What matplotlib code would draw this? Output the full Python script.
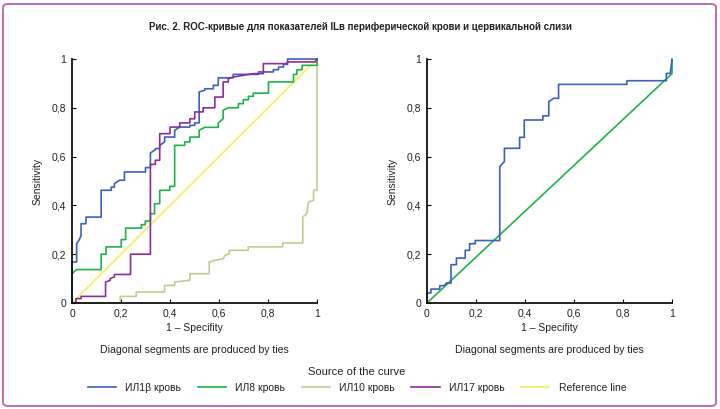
import matplotlib
matplotlib.use('Agg')
import matplotlib.pyplot as plt
from matplotlib.patches import FancyBboxPatch

plt.rcParams['font.family'] = ['Liberation Sans', 'DejaVu Sans']

# ROC points (1 - specificity, sensitivity)
# left panel: blood
il1b_fpr = [0, 0, 0.019, 0.019, 0.03, 0.037, 0.037, 0.057, 0.057, 0.119, 0.119, 0.160, 0.160,
            0.173, 0.173, 0.194, 0.214, 0.214, 0.30, 0.30, 0.32, 0.32, 0.34, 0.34, 0.358, 0.358,
            0.378, 0.378, 0.419, 0.419, 0.44, 0.481, 0.481, 0.501, 0.501, 0.519, 0.519, 0.542,
            0.542, 0.577, 0.577, 0.597, 0.597, 0.658, 0.658, 0.761, 0.761, 0.822, 0.822, 0.843,
            0.843, 0.863, 0.863, 0.880, 0.880, 1.0]
il1b_tpr = [0, 0.168, 0.168, 0.243, 0.26, 0.277, 0.325, 0.325, 0.352, 0.352, 0.462, 0.462, 0.475,
            0.475, 0.489, 0.503, 0.503, 0.537, 0.537, 0.555, 0.555, 0.615, 0.628, 0.633, 0.633, 0.646,
            0.660, 0.680, 0.680, 0.708, 0.721, 0.721, 0.728, 0.728, 0.738, 0.738, 0.865, 0.872,
            0.878, 0.878, 0.892, 0.892, 0.923, 0.923, 0.937, 0.937, 0.947, 0.947, 0.956, 0.956,
            0.967, 0.967, 0.978, 0.978, 1.0, 1.0]

il8_fpr = [0, 0, 0.019, 0.119, 0.119, 0.139, 0.139, 0.201, 0.201, 0.219, 0.219, 0.283, 0.283,
           0.299, 0.299, 0.320, 0.320, 0.337, 0.337, 0.358, 0.358, 0.399, 0.399, 0.419, 0.419,
           0.46, 0.46, 0.481, 0.481, 0.519, 0.519, 0.542, 0.597, 0.597, 0.617, 0.617, 0.638,
           0.679, 0.679, 0.699, 0.699, 0.72, 0.72, 0.74, 0.74, 0.802, 0.802, 0.904, 0.904,
           0.918, 0.918, 0.939, 0.939, 1.0, 1.0]
il8_tpr = [0, 0.12, 0.137, 0.137, 0.2, 0.2, 0.23, 0.23, 0.26, 0.26, 0.307, 0.307, 0.321,
           0.321, 0.336, 0.336, 0.366, 0.366, 0.407, 0.407, 0.462, 0.462, 0.478, 0.478, 0.646,
           0.646, 0.66, 0.66, 0.68, 0.68, 0.708, 0.72, 0.72, 0.738, 0.755, 0.79, 0.80,
           0.80, 0.817, 0.817, 0.833, 0.833, 0.847, 0.847, 0.86, 0.86, 0.906, 0.906, 0.937,
           0.937, 0.956, 0.956, 0.974, 0.974, 1.0]

il10_fpr = [0, 0.197, 0.197, 0.262, 0.262, 0.378, 0.378, 0.419, 0.419, 0.481, 0.481, 0.56,
            0.56, 0.583, 0.617, 0.624, 0.642, 0.642, 0.719, 0.719, 0.86, 0.86, 0.942, 0.942,
            0.958, 0.965, 0.986, 0.986, 1.0, 1.0]
il10_tpr = [0, 0, 0.027, 0.027, 0.045, 0.045, 0.072, 0.072, 0.086, 0.093, 0.12, 0.12,
            0.168, 0.175, 0.181, 0.195, 0.202, 0.216, 0.216, 0.23, 0.23, 0.246, 0.246, 0.353,
            0.366, 0.414, 0.421, 0.462, 0.462, 1.0]

il17_fpr = [0, 0.016, 0.016, 0.037, 0.037, 0.137, 0.137, 0.156, 0.156, 0.173, 0.173, 0.239,
            0.239, 0.320, 0.320, 0.34, 0.34, 0.358, 0.358, 0.40, 0.40, 0.44, 0.44, 0.481, 0.481,
            0.501, 0.501, 0.535, 0.535, 0.583, 0.583, 0.617, 0.617, 0.638, 0.638, 0.658, 0.699,
            0.74, 0.781, 0.781, 0.877, 0.88, 0.993, 1.0]
il17_tpr = [0, 0, 0.018, 0.018, 0.027, 0.027, 0.086, 0.093, 0.10, 0.107, 0.117, 0.117,
            0.2, 0.2, 0.568, 0.568, 0.585, 0.585, 0.694, 0.694, 0.721, 0.721, 0.738, 0.738, 0.755,
            0.755, 0.783, 0.783, 0.80, 0.80, 0.844, 0.844, 0.906, 0.906, 0.919, 0.926, 0.933,
            0.94, 0.94, 0.981, 0.981, 0.988, 0.988, 1.0]

ref_x = [0, 1]
ref_y = [0, 1]

# right panel: cervical mucus
cerv_fpr = [0, 0, 0.016, 0.016, 0.052, 0.052, 0.071, 0.079, 0.098, 0.098, 0.12, 0.12, 0.156,
            0.156, 0.174, 0.174, 0.197, 0.197, 0.297, 0.297, 0.316, 0.316, 0.378, 0.378, 0.397,
            0.397, 0.473, 0.473, 0.497, 0.497, 0.517, 0.537, 0.537, 0.816, 0.816, 0.977, 0.977,
            0.993, 1.0]
cerv_tpr = [0, 0.041, 0.041, 0.057, 0.057, 0.071, 0.071, 0.082, 0.082, 0.157, 0.157, 0.184, 0.184,
            0.216, 0.216, 0.243, 0.243, 0.256, 0.256, 0.559, 0.58, 0.634, 0.634, 0.679, 0.679,
            0.75, 0.75, 0.767, 0.767, 0.825, 0.839, 0.839, 0.896, 0.896, 0.911, 0.911, 0.941,
            0.941, 0.996]
cerv_ref_x = [0, 1, 1]
cerv_ref_y = [0, 0.94, 1.0]

series_names = ['ИЛ1β кровь', 'ИЛ8 кровь', 'ИЛ10 кровь', 'ИЛ17 кровь', 'Reference line']
colors = ['#3d5fbd', '#1fb24a', '#c9c98e', '#8e2c9c', '#f4ee5a']
tick_vals = [0, 0.2, 0.4, 0.6, 0.8, 1]
tick_labels = ['0', '0,2', '0,4', '0,6', '0,8', '1']

W, H = 720, 409
fig = plt.figure(figsize=(7.2, 4.09), dpi=100)
txt = '#222222'

ax1 = fig.add_axes([72 / W, 1 - 303 / H, 245 / W, 244 / H])
ax2 = fig.add_axes([427 / W, 1 - 303 / H, 245 / W, 244 / H])

lw = 1.2
lines = []
for xs, ys, c in [(ref_x, ref_y, colors[4]), (il10_fpr, il10_tpr, colors[2]),
                  (il8_fpr, il8_tpr, colors[1]), (il1b_fpr, il1b_tpr, colors[0]),
                  (il17_fpr, il17_tpr, colors[3])]:
    ln, = ax1.plot(xs, ys, color=c, lw=lw, clip_on=False)
    lines.append(ln)
handles = [lines[3], lines[2], lines[1], lines[4], lines[0]]

ax2.plot(cerv_ref_x, cerv_ref_y, color=colors[1], lw=lw, clip_on=False)
ax2.plot(cerv_fpr, cerv_tpr, color=colors[0], lw=lw, clip_on=False)

for ax in (ax1, ax2):
    ax.set_xlim(0, 1)
    ax.set_ylim(0, 1)
    for s in ('top', 'right'):
        ax.spines[s].set_visible(False)
    for s in ('left', 'bottom'):
        ax.spines[s].set_linewidth(1.3)
        ax.spines[s].set_color('#111111')
    ax.set_xticks(tick_vals)
    ax.set_xticklabels(tick_labels)
    ax.set_yticks(tick_vals)
    ax.set_yticklabels(tick_labels)
    ax.tick_params(direction='in', length=3, width=0.8, labelsize=7.5,
                   labelcolor=txt, pad=4)
    ax.set_xlabel('1 – Specifity', fontsize=7.5, color=txt, labelpad=3)
    ax.set_ylabel('Sensitivity', fontsize=7.5, color=txt, labelpad=7)

fig.text(0.5, 1 - 27 / H, 'Рис. 2. ROC-кривые для показателей ILв периферической крови и цервикальной слизи',
         ha='center', va='center', fontsize=7, fontweight='bold', color=txt)
fig.text(194 / W, 1 - 350 / H, 'Diagonal segments are produced by ties',
         ha='center', va='center', fontsize=7.6, color=txt)
fig.text(549 / W, 1 - 350 / H, 'Diagonal segments are produced by ties',
         ha='center', va='center', fontsize=7.6, color=txt)

leg = fig.legend(handles, series_names, loc='center', bbox_to_anchor=(357 / W, 1 - 380 / H),
                 ncol=5, frameon=False, fontsize=7.5, title='Source of the curve',
                 title_fontsize=8, handlelength=2.7, handletextpad=0.9, columnspacing=1.6,
                 borderaxespad=0, labelcolor=txt)
leg.get_title().set_color(txt)

border = FancyBboxPatch((3 / W, 3 / H), 713 / W, 402 / H,
                        boxstyle='round,pad=0,rounding_size=0.008',
                        transform=fig.transFigure, fill=False,
                        edgecolor='#b86db8', lw=1.4)
fig.patches.append(border)

fig.savefig('out.png', dpi=100)
